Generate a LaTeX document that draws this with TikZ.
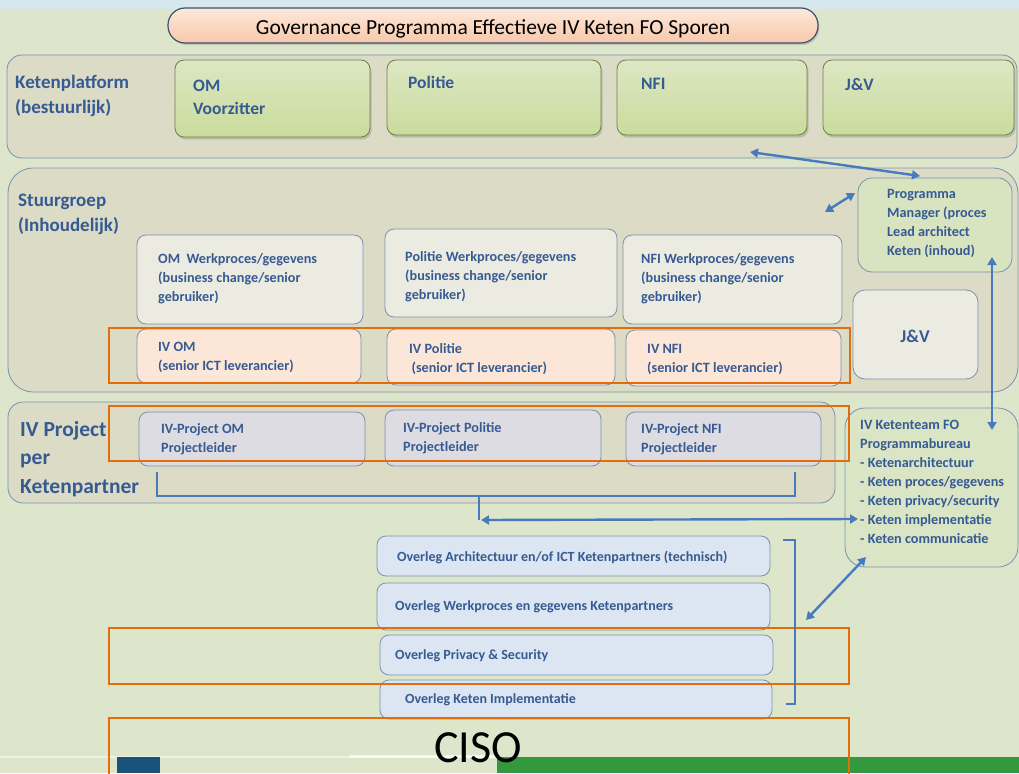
\documentclass[tikz,border=0pt]{standalone}
\usepackage{fontspec}
\setmainfont{Carlito}
\usetikzlibrary{arrows.meta,fit,shadows}

\definecolor{achtergrond}{RGB}{221,230,202}
\definecolor{topband}{RGB}{214,232,238}
\definecolor{bandfill}{RGB}{220,219,197}
\definecolor{bandline}{RGB}{120,146,176}
\definecolor{groenlicht}{RGB}{220,231,196}
\definecolor{groendonker}{RGB}{202,220,156}
\definecolor{groenrand}{RGB}{110,128,72}
\definecolor{werkfill}{RGB}{236,235,226}
\definecolor{ivfill}{RGB}{252,230,216}
\definecolor{projfill}{RGB}{222,221,230}
\definecolor{overlegfill}{RGB}{220,230,242}
\definecolor{pmfill}{RGB}{216,228,192}
\definecolor{teamfill}{RGB}{218,229,198}
\definecolor{oranje}{RGB}{228,108,10}
\definecolor{pijlblauw}{RGB}{72,122,190}
\definecolor{tekstblauw}{RGB}{54,90,146}
\definecolor{titelrand}{RGB}{60,80,110}
\definecolor{titellicht}{RGB}{253,232,218}
\definecolor{titeldonker}{RGB}{247,200,170}
\definecolor{balkblauw}{RGB}{25,82,122}
\definecolor{balkgroen}{RGB}{51,152,62}

\newcommand{\labelfont}{\fontsize{19}{25}\selectfont\bfseries}
\newcommand{\projlabelfont}{\fontsize{21.5}{28.5}\selectfont\bfseries}
\newcommand{\kopfont}{\fontsize{17.5}{23}\selectfont\bfseries}
\newcommand{\boxfont}{\fontsize{14.2}{19}\selectfont\bfseries}
\newcommand{\overlegfont}{\fontsize{14}{16}\selectfont\bfseries}

\begin{document}
\begin{tikzpicture}[x=1pt, y=-1pt,
	band/.style={draw=bandline, fill=bandfill, line width=0.8pt, inner sep=0pt},
	box/.style={draw=bandline, line width=0.8pt, rounded corners=9pt, inner sep=0pt},
	groen/.style={box, draw=groenrand, top color=groenlicht, bottom color=groendonker,
		drop shadow={opacity=0.35, shadow xshift=1.5pt, shadow yshift=-2.5pt}},
	werk/.style={box, fill=werkfill},
	iv/.style={box, fill=ivfill},
	proj/.style={box, fill=projfill, fill opacity=0.9},
	overleg/.style={box, fill=overlegfill},
	txt/.style={anchor=north west, inner sep=0pt, align=left, text=tekstblauw, font=\boxfont},
	kader/.style={draw=oranje, line width=2pt},
	pijl/.style={draw=pijlblauw, line width=2.4pt,
		arrows={Triangle[length=8pt,width=9pt]-Triangle[length=8pt,width=9pt]}},
	haak/.style={draw=pijlblauw, line width=2.4pt}]

	\useasboundingbox (0,0) rectangle (1019,773);

	% achtergrond
	\fill[achtergrond] (0,0) rectangle (1019,773);
	\fill[topband] (0,0) rectangle (1019,9);
	\fill[white, opacity=0.5] (0,756) rectangle (497,758);
	\fill[white, opacity=0.7] (350,755) rectangle (497,758);
	\fill[balkblauw] (117,757) rectangle (160,773);
	\fill[balkgroen] (497,757) rectangle (1019,773);

	% titel
	\node[draw=titelrand, line width=1.2pt, rounded corners=17pt, top color=titellicht,
		bottom color=titeldonker, inner sep=0pt,
		drop shadow={opacity=0.3, shadow xshift=1.5pt, shadow yshift=-2pt},
		fit={(168,8) (818,43)}] (titel) {};
	\node[font=\fontsize{21.5}{24}\selectfont, yshift=-3pt] at (titel.center) (titeltekst)
		{Governance Programma Effectieve IV Keten FO Sporen};

	% banden
	\node[band, rounded corners=15pt, fit={(7,55) (1017,158)}] (platform) {};
	\node[band, rounded corners=25pt, fit={(8,168) (1018,392)}] (stuurgroep) {};
	\node[band, rounded corners=15pt, fit={(8,402) (835,503)}] (project) {};

	\node[txt, font=\labelfont] at (15,75) (platformlabel) {Ketenplatform\\(bestuurlijk)};
	\node[txt, font=\labelfont] at (18,194) (stuurlabel) {Stuurgroep\\(Inhoudelijk)};
	\node[txt, font=\projlabelfont] at (20,421) (projlabel) {IV Project\\per\\Ketenpartner};

	% ketenplatform
	\node[groen, fit={(175,60) (370,137)}] (om) {};
	\node[groen, fit={(387,60) (601,135)}] (politie) {};
	\node[groen, fit={(617,60) (807,135)}] (nfi) {};
	\node[groen, fit={(823,60) (1014,135)}] (jv) {};
	\node[txt, font=\kopfont] at (193,80) (omtekst) {OM\\Voorzitter};
	\node[txt, font=\kopfont] at (408,76) (politietekst) {Politie};
	\node[txt, font=\kopfont] at (641,78) (nfitekst) {NFI};
	\node[txt, font=\kopfont] at (845,78) (jvtekst) {J\&V};

	% stuurgroep
	\node[werk, fit={(137,235) (363,324)}] (omwerk) {};
	\node[werk, fit={(385,229) (617,317)}] (politiewerk) {};
	\node[werk, fit={(623,235) (842,324)}] (nfiwerk) {};
	\node[txt] at (158,253) (omwerktekst) {OM\ \ Werkproces/gegevens\\(business change/senior\\gebruiker)};
	\node[txt] at (405,251) (politiewerktekst) {Politie Werkproces/gegevens\\(business change/senior\\gebruiker)};
	\node[txt] at (641,253) (nfiwerktekst) {NFI Werkproces/gegevens\\(business change/senior\\gebruiker)};

	\node[iv, fit={(137,329) (361,383)}] (ivom) {};
	\node[iv, fit={(387,329) (615,385)}] (ivpolitie) {};
	\node[iv, fit={(626,330) (841,386)}] (ivnfi) {};
	\node[txt] at (158,342) (ivomtekst) {IV OM\\(senior ICT leverancier)};
	\node[txt] at (409,343) (ivpolitietekst) {IV Politie\\\,(senior ICT leverancier)};
	\node[txt] at (647,344) (ivnfitekst) {IV NFI\\(senior ICT leverancier)};

	\node[box, fill=pmfill, rounded corners=14pt, fit={(858,178) (1012,272)}] (pm) {};
	\node[txt] at (887,189) (pmtekst) {Programma\\Manager (proces\\Lead architect\\Keten (inhoud)};
	\node[werk, rounded corners=12pt, fit={(853,290) (978,379)}] (jvwerk) {};
	\node[text=tekstblauw, font=\fontsize{18}{20}\selectfont\bfseries] at (915,336) (jvwerktekst) {J\&V};

	% iv project
	\node[proj, fit={(139,412) (365,466)}] (projom) {};
	\node[proj, fit={(385,410) (601,466)}] (projpolitie) {};
	\node[proj, fit={(626,412) (821,466)}] (projnfi) {};
	\node[txt] at (161,423) (projomtekst) {IV-Project OM\\Projectleider};
	\node[txt] at (403,422) (projpolitietekst) {IV-Project Politie\\Projectleider};
	\node[txt] at (641,423) (projnfitekst) {IV-Project NFI\\Projectleider};

	% ketenteam
	\node[box, fill=teamfill, rounded corners=20pt, fit={(845,408) (1018,567)}] (team) {};
	\node[txt] at (860,420) (teamtekst)
		{IV Ketenteam FO\\Programmabureau\\- Ketenarchitectuur\\- Keten proces/gegevens\\%
		- Keten privacy/security\\- Keten implementatie\\- Keten communicatie};

	% overleggen
	\node[overleg, fit={(377,536) (770,576)}] (architectuur) {};
	\node[overleg, fit={(377,583) (770,630)}] (werkproces) {};
	\node[overleg, fit={(380,635) (773,675)}] (privacy) {};
	\node[overleg, fit={(380,680) (772,719)}] (implementatie) {};
	\node[txt, anchor=west, font=\overlegfont] at (397,557) (architectuurtekst)
		{Overleg Architectuur en/of ICT Ketenpartners (technisch)};
	\node[txt, anchor=west, font=\overlegfont] at (395,607) (werkprocestekst)
		{Overleg Werkproces en gegevens Ketenpartners};
	\node[txt, anchor=west, font=\overlegfont] at (395,656) (privacytekst)
		{Overleg Privacy \& Security};
	\node[txt, anchor=west, font=\overlegfont] at (405,700) (implementatietekst)
		{Overleg Keten Implementatie};

	% oranje kaders
	\node[kader, inner sep=0pt, fit={(109,328) (850,383)}] (kaderiv) {};
	\node[kader, inner sep=0pt, fit={(109,406) (849,461)}] (kaderproj) {};
	\node[kader, inner sep=0pt, fit={(109,628) (849,684)}] (kaderprivacy) {};
	\node[kader, inner sep=0pt, fit={(109,718) (849,776)}] (kaderciso) {};
	\node[font=\fontsize{46}{50}\selectfont] at (478,748) (ciso) {CISO};

	% verbindingen
	\coordinate (platformpunt) at (750,152);
	\coordinate (pmboven) at (920,176);
	\coordinate (stuurpunt) at (825,212);
	\coordinate (pmlinks) at (855,193);
	\coordinate (pmonder) at (992,257);
	\coordinate (teamboven) at (992,430);
	\coordinate (haakom) at (157,472);
	\coordinate (haaknfi) at (795,472);
	\coordinate (haakmidden) at (479,496);
	\coordinate (pijllinks) at (481,520);
	\coordinate (teamlinks) at (858,519);
	\coordinate (haakboven) at (783,540);
	\coordinate (haakonder) at (786,704);
	\coordinate (haakpunt) at (806,620);
	\coordinate (teamonder) at (866,557);

	\draw[pijl] (platformpunt) -- (pmboven);
	\draw[pijl] (stuurpunt) -- (pmlinks);
	\draw[pijl] (pmonder) -- (teamboven);
	\draw[haak] (haakom) |- (haaknfi |- haakmidden) -- (haaknfi);
	\draw[haak] (haakmidden) -- (haakmidden |- pijllinks);
	\draw[pijl] (pijllinks) -- (teamlinks);
	\draw[haak] (haakboven) -- (795,540) |- (haakonder);
	\draw[pijl] (haakpunt) -- (teamonder);

\end{tikzpicture}
\end{document}
